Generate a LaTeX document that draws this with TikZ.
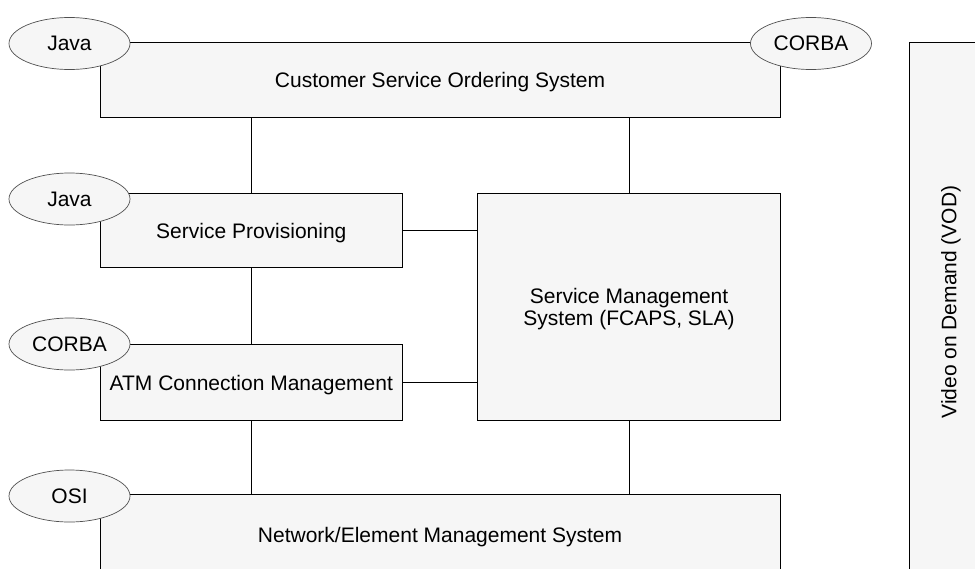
\documentclass[tikz,border=0pt]{standalone}
\usepackage{fontspec}
\setmainfont{Liberation Sans}
\usepackage{xcolor}
\usetikzlibrary{shapes.geometric}

\definecolor{boxfill}{HTML}{F6F6F6}
\definecolor{tagline}{HTML}{505050}

\begin{document}
\begin{tikzpicture}[
    x=1pt, y=-1pt,
    sys/.style={rectangle, draw=black, line width=1.1pt, fill=boxfill, anchor=north west, inner sep=0pt, text depth=0pt, font=\fontsize{21}{22}\selectfont, align=center},
    tag/.style={ellipse, draw=tagline, line width=0.7pt, fill=boxfill, minimum width=121pt, minimum height=52pt, inner sep=0pt, font=\fontsize{21}{22}\selectfont},
    link/.style={line width=1.1pt}
]
\useasboundingbox (0,0) rectangle (975,568);
\clip (0,0) rectangle (975,568);

% systems
\node[sys, minimum width=680pt, minimum height=75pt] (cust) at (99.5,42) {Customer Service Ordering System};
\node[sys, minimum width=302.5pt, minimum height=74pt] (prov) at (99.5,193) {Service Provisioning};
\node[sys, minimum width=302.5pt, minimum height=76pt] (atm) at (99.5,344) {ATM Connection Management};
\node[sys, minimum width=303pt, minimum height=227pt] (sms) at (477,193) {Service Management\\System (FCAPS, SLA)};
\node[sys, minimum width=680pt, minimum height=81pt] (nms) at (99.5,494) {Network/Element Management System};
\node[sys, minimum width=91pt, minimum height=533pt] (vod) at (909,42) {};
\node[rotate=90, font=\fontsize{21}{22}\selectfont] (vodtext) at (951,302) {Video on Demand (VOD)};

% links between systems
\draw[link] (prov.north) -- (prov.north |- cust.south);
\draw[link] (sms.north) -- (sms.north |- cust.south);
\draw[link] (prov.east) -- (prov.east -| sms.west);
\draw[link] (atm.north) -- (prov.south);
\draw[link] (atm.east) -- (atm.east -| sms.west);
\draw[link] (atm.south) -- (atm.south |- nms.north);
\draw[link] (sms.south) -- (sms.south |- nms.north);

% interface tags
\node[tag] (javacust) at (69.5,43.5) {Java};
\node[tag] (corbacust) at (811,43.5) {CORBA};
\node[tag] (javaprov) at (69.5,199) {Java};
\node[tag] (corbaatm) at (69.5,344) {CORBA};
\node[tag] (osi) at (69.5,496) {OSI};
\end{tikzpicture}
\end{document}
